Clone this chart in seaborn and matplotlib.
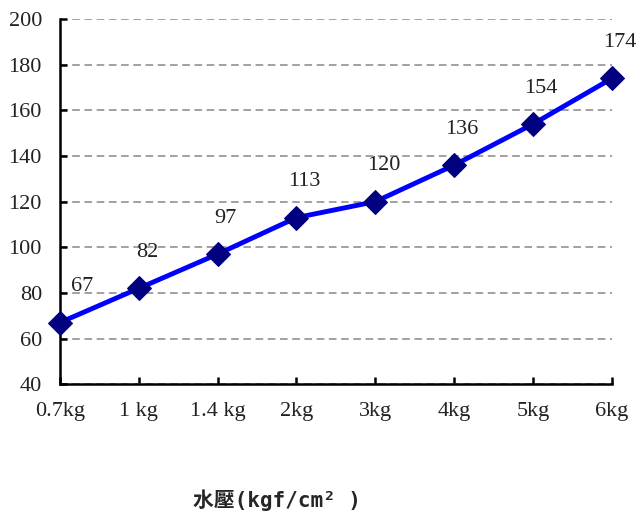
import pandas as pd
import matplotlib.pyplot as plt
import seaborn as sns

# water pressure levels and measured values
pressure_labels = ['0.7kg', '1 kg', '1.4 kg', '2kg', '3kg', '4kg', '5kg', '6kg']
values = [67, 82, 97, 113, 120, 136, 154, 174]
y_ticks = [40, 60, 80, 100, 120, 140, 160, 180, 200]

df = pd.DataFrame({'pressure': pressure_labels, 'value': values})

sns.set_style('ticks')
plt.rcParams['font.family'] = ['Liberation Serif', 'Noto Sans CJK TC']

fig = plt.figure(figsize=(6.38, 5.17), dpi=100)
ax = fig.add_axes([0.094, 0.257, 0.865, 0.706])

sns.lineplot(data=df, x='pressure', y='value', sort=False, ax=ax,
             color='#0000FF', linewidth=3.5, marker='D', markersize=12,
             markerfacecolor='#000080', markeredgecolor='#000080',
             clip_on=False, zorder=3)

for i, v in enumerate(values):
    dx = 22 if i == 0 else 8
    ax.annotate(str(v), (i, v), xytext=(dx, 36), textcoords='offset pixels',
                ha='center', va='center', fontsize=16, color='#222222',
                annotation_clip=False)

ax.set_xlim(0, len(pressure_labels) - 1)
ax.set_ylim(40, 200)
ax.set_yticks(y_ticks)
ax.set_xticks(range(len(pressure_labels)))
ax.set_xticklabels(pressure_labels)
ax.yaxis.grid(True, linestyle=(0, (5, 3)), color='#888888', linewidth=1.1)
ax.set_axisbelow(True)

sns.despine(ax=ax)
for s in ['left', 'bottom']:
    ax.spines[s].set_linewidth(1.8)
    ax.spines[s].set_color('black')
ax.tick_params(axis='both', direction='in', width=1.8, length=5, labelsize=16,
               colors='black', labelcolor='#222222')
ax.tick_params(axis='x', pad=13)
ax.tick_params(axis='y', pad=13)
ax.set_xlabel('')
ax.set_ylabel('')

fig.text(0.434, 0.033, '水壓(kgf/cm² )', ha='center', va='center', fontsize=15,
         fontweight='bold', family=['DejaVu Sans Mono', 'Noto Sans CJK TC'])

fig.savefig('out.png', dpi=100)
